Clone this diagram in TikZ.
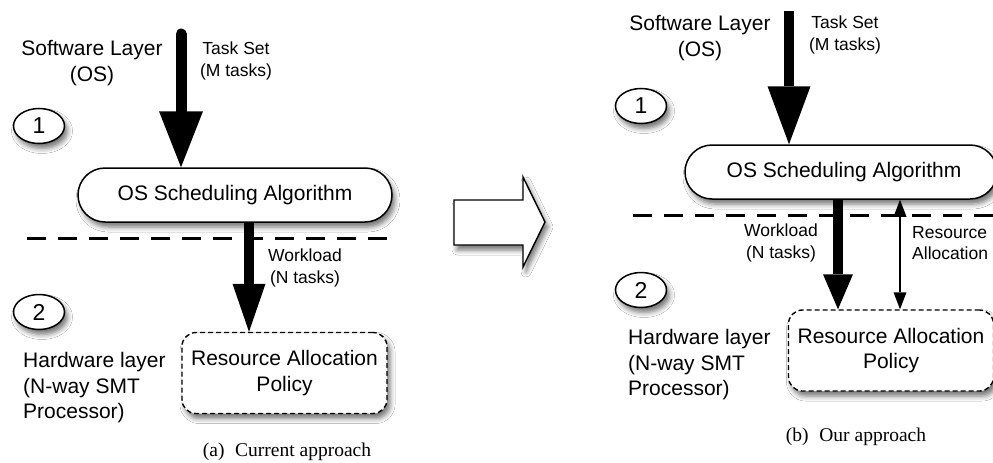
\documentclass[tikz,border=0pt]{standalone}
\usepackage{fontspec}
\setmainfont{Liberation Sans}
\newfontfamily\capfont{Liberation Serif}
\usetikzlibrary{arrows.meta,shapes.misc,shapes.geometric,shadows.blur}

\tikzset{
  softshadow/.style={blur shadow={shadow xshift=3pt, shadow yshift=-5pt,
      shadow blur radius=5pt, shadow opacity=55}},
  layertext/.style={font=\fontsize{21}{25.5}\selectfont, align=center, inner sep=0pt},
  labeltext/.style={font=\fontsize{17.5}{21.5}\selectfont, align=center, inner sep=0pt},
  captext/.style={font=\capfont\fontsize{19.5}{23}\selectfont, inner sep=0pt},
  stepno/.style={ellipse, draw, line width=1.5pt, fill=white, softshadow,
      minimum width=51pt, minimum height=35pt, inner sep=0pt,
      font=\fontsize{23}{24}\selectfont},
  schedpill/.style={rounded rectangle, draw, line width=1.5pt, fill=white, softshadow,
      minimum width=314pt, minimum height=54pt, inner sep=0pt,
      font=\fontsize{21}{25}\selectfont},
  policybox/.style={rectangle, rounded corners=14pt, draw, line width=1.4pt,
      dash pattern=on 5pt off 3pt, fill=white, softshadow,
      minimum width=205pt, minimum height=81pt, inner sep=0pt, align=center,
      font=\fontsize{21}{25.5}\selectfont},
  layerline/.style={line width=3pt, dash pattern=on 19pt off 12pt},
  bigflowA/.style={line width=11pt, -{Triangle[length=56pt,width=44pt,line width=0pt]}},
  bigflowB/.style={line width=10.5pt, -{Triangle[length=58pt,width=43pt,line width=0pt]}},
  midflowA/.style={line width=10pt, -{Triangle[length=48pt,width=33pt,line width=0pt]}},
  midflowB/.style={line width=10pt, -{Triangle[length=35pt,width=30pt,line width=0pt]}},
  allocflow/.style={line width=2.8pt,
      {Triangle[length=17pt,width=13pt,line width=0pt]}-{Triangle[length=17pt,width=13pt,line width=0pt]}},
}

\begin{document}
\begin{tikzpicture}[x=1pt,y=-1pt]
\clip (0,0) rectangle (993,463);
\fill[white] (0,0) rectangle (993,463);

% ---------- (a) current approach ----------
\node[layertext] (swA) at (92,63) {Software Layer\\(OS)};
\node[labeltext] (tsA) at (236,61) {Task Set\\(M tasks)};
\node[stepno] (oneA) at (39,126) {1};
\node[schedpill] (schedA) at (235,195) {OS Scheduling Algorithm};
\draw[layerline] (27,238) -- (398,238);
\node[stepno] (twoA) at (39,312) {2};
\node[policybox] (polA) at (284.5,373) {Resource Allocation\\Policy};
\node[layertext, align=left, anchor=west] (hwA) at (23,388)
  {Hardware layer\\(N-way SMT\\Processor)};
\node[labeltext] (wlA) at (305,268) {Workload\\(N tasks)};

\coordinate (tsTopA) at (181,34);
\draw[bigflowA, line cap=round] (tsTopA) -- (tsTopA |- schedA.north);
\coordinate (wlTopA) at (schedA.south -| 249,0);
\draw[midflowA] (wlTopA) -- (wlTopA |- polA.north);

\node[captext] (capA) at (287,452) {(a)\hspace{0.55em}Current approach};

% ---------- (b) our approach ----------
\node[layertext] (swB) at (700,38) {Software Layer\\(OS)};
\node[labeltext] (tsB) at (845,35) {Task Set\\(M tasks)};
\node[stepno] (oneB) at (641,106) {1};
\node[schedpill, minimum width=312pt] (schedB) at (841,172) {\hspace{6pt}OS Scheduling Algorithm};
\draw[layerline] (633,215) -- (1000,215);
\node[stepno] (twoB) at (641,290) {2};
\node[policybox] (polB) at (891,350.5) {Resource Allocation\\Policy};
\node[layertext, align=left, anchor=west] (hwB) at (628,365)
  {Hardware layer\\(N-way SMT\\Processor)};
\node[labeltext] (wlB) at (781,243) {Workload\\(N tasks)};
\node[labeltext, align=left, anchor=west] (raB) at (912,243) {Resource\\Allocation};

\coordinate (tsTopB) at (789,11);
\draw[bigflowB] (tsTopB) -- (tsTopB |- schedB.north);
\coordinate (wlTopB) at (schedB.south -| 838,0);
\draw[midflowB] (wlTopB) -- (wlTopB |- polB.north);
\coordinate (raTopB) at (schedB.south -| 900,0);
\draw[allocflow] (raTopB) -- (raTopB |- polB.north);

\node[captext] (capB) at (856,437) {(b)\hspace{0.55em}Our approach};

% ---------- transition arrow between the two panels ----------
\begin{scope}
\filldraw[fill=white, draw=black, line width=1.4pt, line join=miter, softshadow]
  (454,200) -- (523,200) -- (523,177) -- (545,222) -- (523,267) -- (523,245)
  -- (454,245) -- cycle;
\end{scope}
\end{tikzpicture}
\end{document}
